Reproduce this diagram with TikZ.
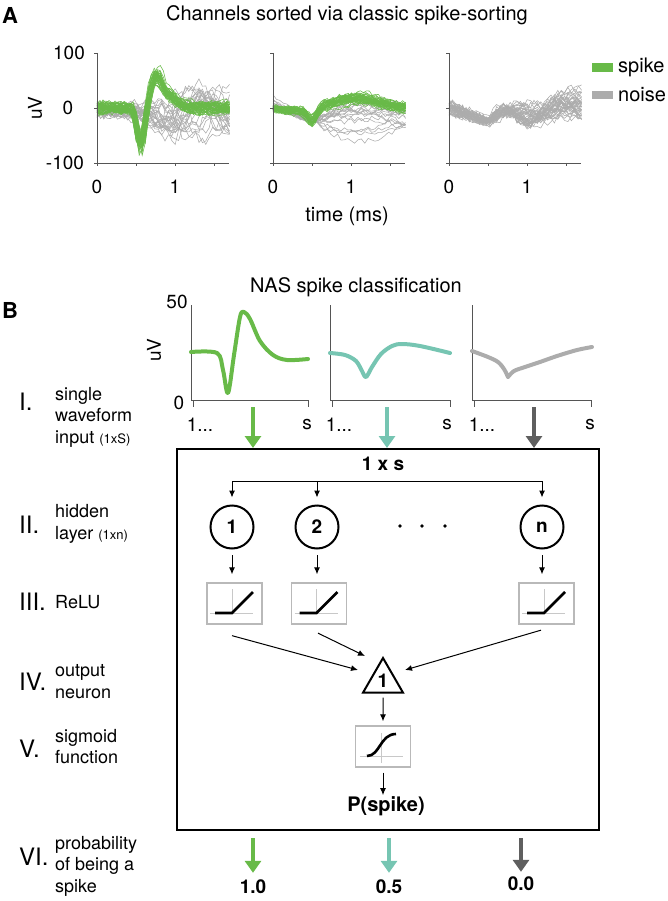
\documentclass[tikz,border=0pt]{standalone}
\usepackage{fontspec}
\setmainfont{TeX Gyre Heros}
\usetikzlibrary{arrows.meta,shapes.geometric}
\definecolor{spk}{RGB}{104,186,72}
\definecolor{noi}{RGB}{172,172,172}
\definecolor{tealc}{RGB}{118,197,178}
\definecolor{dgray}{RGB}{95,95,95}
\definecolor{axc}{RGB}{85,85,85}
\definecolor{boxc}{RGB}{185,185,185}
\definecolor{gridc}{RGB}{200,200,200}
\newcommand\fs[1]{\fontsize{#1}{#1}\selectfont}
\newcommand\drawrelu[1]{%
  \draw[gridc,line width=0.8pt] ([shift={(-2.5,-14.5)}]#1.center) -- ([shift={(-2.5,9.5)}]#1.center);
  \draw[gridc,line width=0.8pt] ([shift={(-24.5,9.5)}]#1.center) -- ([shift={(18.5,9.5)}]#1.center);
  \draw[line width=2.6pt] ([shift={(-19.5,9.5)}]#1.center) -- ([shift={(-2.5,9.5)}]#1.center) -- ([shift={(18.5,-11.5)}]#1.center);
}
\begin{document}
\begin{tikzpicture}[x=1pt,y=-1pt,
  declare function={gbump(\qa,\qb,\qc)=exp(-min((\qa-\qb)*(\qa-\qb)/(\qc*\qc),9));
    spa(\qa)=-74*gbump(\qa,0.56,0.065)+47*gbump(\qa,0.75,0.09)+25*gbump(\qa,0.88,0.17);
    spb(\qa)=-22*gbump(\qa,0.5,0.08)-6*gbump(\qa,0.35,0.3)+18*gbump(\qa,1.05,0.45);},
  ttl/.style={inner sep=0pt,font=\fs{20}},
  tck/.style={inner sep=0pt,font=\fs{19}},
  lett/.style={inner sep=0pt,font=\fs{22}\bfseries},
  rom/.style={inner sep=0pt,anchor=west,font=\fs{24}},
  lab/.style={inner sep=0pt,anchor=west,align=left,font=\fontsize{18}{21.5}\selectfont},
  bld/.style={inner sep=0pt,font=\fs{19}\bfseries},
  axA/.style={axc,line width=0.9pt},
  axB/.style={axc,line width=0.9pt},
  nzl/.style={noi,line width=0.55pt},
  spl/.style={spk,line width=0.55pt},
  conn/.style={-{Latex[length=7pt,width=6pt]},line width=1pt},
  fat/.style={line width=4.5pt,-{Triangle[width=16pt,length=12pt]}},
  fbox/.style={draw=boxc,line width=1.3pt,minimum width=55pt,minimum height=41pt,inner sep=0pt},
  neur/.style={circle,draw,line width=2pt,minimum size=43pt,inner sep=0pt,font=\fs{19}\bfseries},
  wave/.style={line width=4pt,line cap=round,line join=round},
]
\useasboundingbox (0,0) rectangle (668,901);
\pgfmathsetseed{4711}
% ---------------- Panel A ----------------
\node[lett] (A) at (10,15) {A};
\node[ttl] (titA) at (347,15) {Channels sorted via classic spike-sorting};
% plot 1
\begin{scope}[shift={(97,108)},xscale=78,yscale=-0.55]
  \foreach \k in {1,...,26}{
    \pgfmathsetmacro\oa{8*rand-4}
    \pgfmathsetmacro\aa{10+40*rnd}
    \pgfmathsetmacro\pa{360*rnd}
    \pgfmathsetmacro\fa{250+350*rnd}
    \draw[nzl] plot[domain=0:1.7,samples=40] (\x,{\oa-14*gbump(\x,0.8,0.25)+\aa*min(1,\x*\x)*sin(\fa*\x+\pa)+10*rand});
  }
  \foreach \k in {1,...,45}{
    \pgfmathsetmacro\ob{8*rand}
    \pgfmathsetmacro\ab{0.85+0.25*rnd}
    \pgfmathsetmacro\db{0.035*rand}
    \pgfmathsetmacro\wa{7*rnd}
    \pgfmathsetmacro\pa{360*rnd}
    \draw[spl] plot[domain=0:1.7,samples=45] (\x,{\ob+\ab*spa(\x-\db)+\wa*sin(500*\x+\pa)+5*rand});
  }
\end{scope}
% plot 2
\begin{scope}[shift={(273,108)},xscale=78,yscale=-0.55]
  \foreach \k in {1,...,18}{
    \pgfmathsetmacro\sa{85*rnd*rnd*rnd}
    \pgfmathsetmacro\da{25-95*rnd*rnd}
    \pgfmathsetmacro\ea{40*rnd-10}
    \draw[nzl] plot[domain=0:1.7,samples=40] (\x,{ifthenelse(\x<0.5,\sa+(-25-\sa)*\x/0.5,-25+\da*sin(150*(\x-0.5))+\ea*(\x-0.5))+5*rand});
  }
  \foreach \k in {1,...,45}{
    \pgfmathsetmacro\ob{7*rand}
    \pgfmathsetmacro\ab{0.75+0.5*rnd}
    \pgfmathsetmacro\wa{6*rnd}
    \pgfmathsetmacro\pa{360*rnd}
    \draw[spl] plot[domain=0:1.7,samples=45] (\x,{\ob*min(1,\x*2)+\ab*spb(\x)+\wa*sin(400*\x+\pa)+4*rand});
  }
\end{scope}
% plot 3
\begin{scope}[shift={(449,108)},xscale=78,yscale=-0.55]
  \foreach \k in {1,...,42}{
    \pgfmathsetmacro\sa{12*rand+3}
    \pgfmathsetmacro\ma{-25+6*rand}
    \pgfmathsetmacro\ea{8+16*rand}
    \pgfmathsetmacro\aa{6+15*rnd}
    \pgfmathsetmacro\fa{200+350*rnd}
    \draw[nzl] plot[domain=0:1.7,samples=40] (\x,{ifthenelse(\x<0.5,\sa+(\ma-\sa)*\x/0.5,\ma+(\ea-\ma)*(\x-0.5)/1.2+\aa*sin(\fa*(\x-0.5)))+8*rand});
  }
\end{scope}
% axes A
\foreach \ox in {97,273,449}{
  \draw[axA] (\ox,53) -- (\ox,163) -- (\ox+132,163);
  \foreach \yy in {53,108,163} \draw[axA] (\ox,\yy) -- (\ox-3.5,\yy);
  \foreach \tx in {0,39,78,117} \draw[axA] (\ox+\tx,163) -- (\ox+\tx,166.5);
}
\node[tck] (y100) at (69,53) {100};
\node[tck] (y0) at (68,108) {0};
\node[tck] (ym100) at (65,163) {-100};
\node[tck,rotate=90] (uvA) at (35,108) {uV};
\node[tck] (xa0) at (97,187) {0};
\node[tck] (xa1) at (175,187) {1};
\node[tck] (xb0) at (273,187) {0};
\node[tck] (xb1) at (351,187) {1};
\node[tck] (xc0) at (449,187) {0};
\node[tck] (xc1) at (527,187) {1};
\node[ttl] (timeA) at (347,216) {time (ms)};
\fill[spk] (592,63) rectangle (613,72);
\fill[noi] (592,91) rectangle (613,99);
\node[ttl,anchor=west] (lgs) at (618,67) {spike};
\node[ttl,anchor=west] (lgn) at (618,95) {noise};
% ---------------- Panel B ----------------
\node[lett] (B) at (10,310) {B};
\node[ttl] (titB) at (356,287) {NAS spike classification};
% input plots
\foreach \ox/\ex in {191/308,330/450,472/591}{
  \draw[axB] (\ox,305) -- (\ox,400) -- (\ex,400);
  \draw[axB] (\ox+2,400) -- (\ox+2,407);
  \draw[axB] (\ex,400) -- (\ex,407);
}
\node[tck] (b50) at (177,302) {50};
\node[tck] (b0) at (179,403) {0};
\node[tck,rotate=90] (uvB) at (154,350) {uV};
\node[tck] (s1a) at (200,425) {1...};
\node[tck] (s1b) at (339,425) {1...};
\node[tck] (s1c) at (482,425) {1...};
\node[tck] (ssa) at (307,425) {s};
\node[tck] (ssb) at (447,425) {s};
\node[tck] (ssc) at (590,425) {s};
\draw[wave,spk] plot[smooth,tension=0.55] coordinates {(191,352) (217,353) (223,370) (228,393) (234,355) (240,317) (244,312) (250,319) (260,341) (273,355) (287,360) (308,359)};
\draw[wave,tealc] plot[smooth,tension=0.55] coordinates {(330,353) (345,355) (356,361) (362,371) (366,377) (372,367) (381,354) (392,346) (402,344) (420,346) (450,353)};
\draw[wave,noi] plot[smooth,tension=0.5] coordinates {(472,351) (488,357) (498,362) (504,369) (508,377)} plot[smooth,tension=0.5] coordinates {(508,377) (514,371) (525,367) (540,362) (557,356) (577,350) (592,347)};
% big box
\node[draw,line width=2pt,minimum width=422pt,minimum height=381pt,inner sep=0pt] (net) at (388,639.5) {};
% input arrows
\coordinate (ia) at (253,407);
\coordinate (ib) at (387,407);
\coordinate (ic) at (534,407);
\draw[fat,spk] (ia) -- (ia |- net.north);
\draw[fat,tealc] (ib) -- (ib |- net.north);
\draw[fat,dgray] (ic) -- (ic |- net.north);
% network
\node[bld] (ins) at (383,464) {1 x s};
\coordinate (br1) at (232,481);
\coordinate (br2) at (317,481);
\coordinate (brn) at (542,481);
\node[neur] (h1) at (232,527) {1};
\node[neur] (h2) at (317,527) {2};
\node[neur] (hn) at (542,527) {n};
\draw[line width=1pt] (br1) -- (brn);
\draw[conn,shorten >=7pt] (br1) -- (h1);
\draw[conn,shorten >=7pt] (br2) -- (h2);
\draw[conn,shorten >=7pt] (brn) -- (hn);
\foreach \dx in {400,422,445} \fill (\dx,526) circle (1.9);
\node[fbox] (r1) at (234.5,603.5) {};
\node[fbox] (r2) at (319,603.5) {};
\node[fbox] (rn) at (546.5,603.5) {};
\drawrelu{r1}
\drawrelu{r2}
\drawrelu{rn}
\draw[conn,shorten <=5.5pt,shorten >=8pt] (h1.south) -- (h1.south |- r1.north);
\draw[conn,shorten <=5.5pt,shorten >=8pt] (h2.south) -- (h2.south |- r2.north);
\draw[conn,shorten <=5.5pt,shorten >=8pt] (hn.south) -- (hn.south |- rn.north);
\node[regular polygon,regular polygon sides=3,draw,line width=2pt,minimum size=46pt,inner sep=0pt,font=\fs{19}\bfseries] (out) at (383,681) {1};
\draw[conn] ([shift={(-2.5,11)}]r1.south) -- ([shift={(-25,-11)}]out.center);
\draw[conn] ([shift={(-1,8.5)}]r2.south) -- ([shift={(-18,-25)}]out.center);
\draw[conn] ([shift={(-5.5,5.5)}]rn.south) -- ([shift={(22,-11)}]out.center);
\node[fbox] (sg) at (383,746.5) {};
\draw[gridc,line width=0.8pt] ([shift={(-2,-13.5)}]sg.center) -- ([shift={(-2,16.5)}]sg.center);
\draw[gridc,line width=0.8pt] ([shift={(-23,9.5)}]sg.center) -- ([shift={(20,9.5)}]sg.center);
\draw[line width=2.6pt] ([shift={(-16,9.5)}]sg.center) .. controls ([shift={(-3,9.5)}]sg.center) and ([shift={(-3,-12.5)}]sg.center) .. ([shift={(13,-12.5)}]sg.center);
\node[inner sep=0pt,font=\fs{20}\bfseries] (ps) at (386,806) {P(spike)};
\draw[conn,shorten <=4pt,shorten >=4pt] (out) -- (sg);
\draw[conn,shorten <=5pt,shorten >=1pt] (sg) -- (ps.north -| sg);
% outputs
\node[bld] (v1) at (253,887) {1.0};
\node[bld] (v2) at (389,887) {0.5};
\node[bld] (v3) at (521,884) {0.0};
\draw[fat,spk,shorten <=7pt,shorten >=7pt] (net.south -| v1) -- (v1.north);
\draw[fat,tealc,shorten <=7pt,shorten >=7pt] (net.south -| v2) -- (v2.north);
\draw[fat,dgray,shorten <=7pt,shorten >=5pt] (net.south -| v3) -- (v3.north);
% left labels
\node[rom] (n1) at (19,402) {I.};
\node[lab] (t1) at (55,417) {single\\waveform\\input {\fs{13}(1xS)}};
\node[rom] (n2) at (19,525) {II.};
\node[lab] (t2) at (55,524) {hidden\\layer {\fs{13}(1xn)}};
\node[rom] (n3) at (19,602) {III.};
\node[lab] (t3) at (55,602) {ReLU};
\node[rom] (n4) at (19,682) {IV.};
\node[lab] (t4) at (55,681.5) {output\\neuron};
\node[rom] (n5) at (19,749) {V.};
\node[lab] (t5) at (55,746.5) {sigmoid\\function};
\node[rom] (n6) at (19,857) {VI.};
\node[lab] (t6) at (55,866) {probability\\of being a\\spike};
\end{tikzpicture}
\end{document}
